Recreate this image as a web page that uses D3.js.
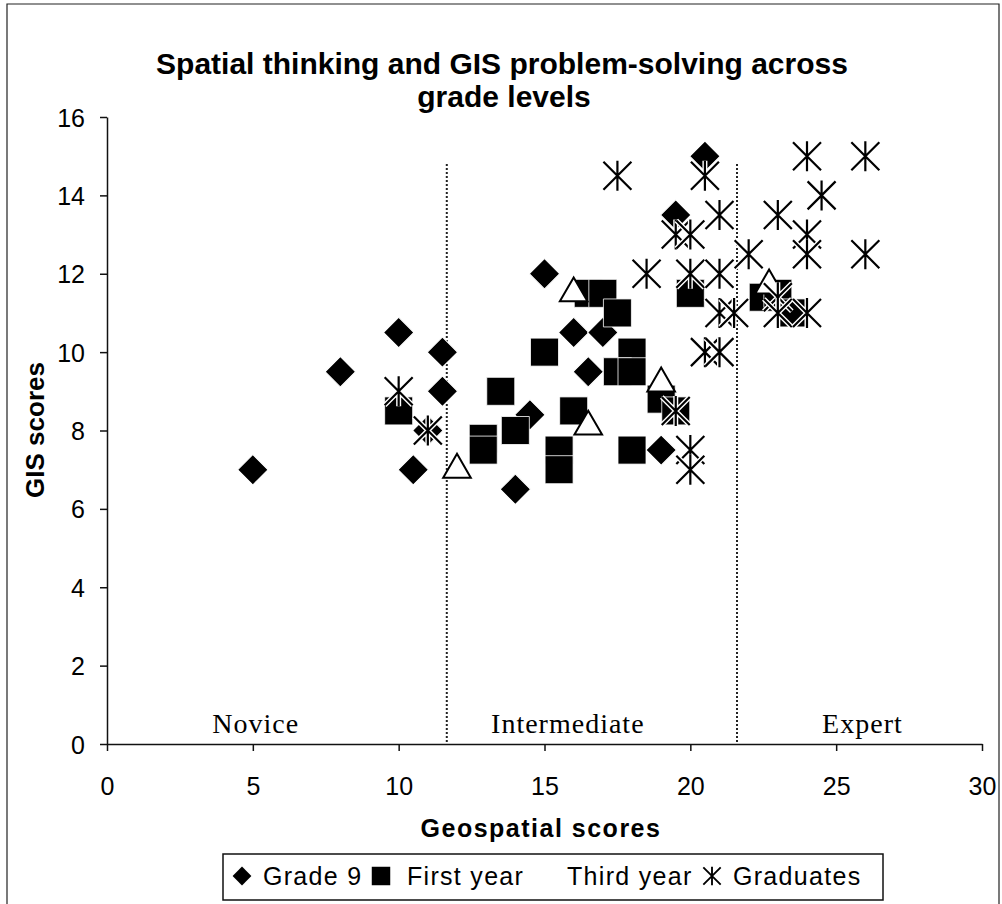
<!DOCTYPE html>
<html>
<head>
<meta charset="utf-8">
<script src="https://cdn.jsdelivr.net/npm/d3@7"></script>
<style>
  body { margin: 0; background: #fff; }
  text { font-family: Arial, "Liberation Sans", sans-serif; fill: #000; }
</style>
</head>
<body>
<div id="chart"></div>
<script>
// values: [geospatial score, GIS score]
var gradeNine = [[5, 7], [8, 9.5], [10, 10.5], [11.5, 10], [11.5, 9], [10.5, 7], [11, 8],
  [15, 12], [16, 10.5], [17, 10.5], [16.5, 9.5], [14, 6.5], [14.5, 8.4], [19, 7.5],
  [19.5, 13.5], [20.5, 15], [23.5, 11]];
var firstYear = [[10, 8.5], [12.9, 7.8], [12.9, 7.5], [13.5, 9], [14, 8], [15, 10], [16, 8.5],
  [15.5, 7.5], [15.5, 7], [16.5, 11.5], [17, 11.5], [17.5, 11], [18, 10], [17.5, 9.5],
  [18, 9.5], [18, 7.5], [19, 8.8], [19.5, 8.5], [20, 11.5], [22.5, 11.4], [23, 11.5], [23.5, 11]];
var thirdYear = [[12, 7], [16, 11.5], [16.5, 8.1], [19, 9.2], [22.7, 11.7]];
var graduates = [[10, 9], [11, 8], [17.5, 14.5], [20.5, 14.5], [24, 15], [26, 15], [24.5, 14],
  [21, 13.5], [23, 13.5], [19.5, 13], [20, 13], [24, 13], [24, 12.5], [26, 12.5], [22, 12.5],
  [18.5, 12], [20, 12], [21, 12], [21, 11], [21.5, 11], [23, 11.4], [23, 11], [24, 11],
  [20.5, 10], [21, 10], [19.5, 8.5], [20, 7.5], [20, 7]];

var seriesNames = ["Grade 9", "First year", "Third year", "Graduates"];
var xTicks = [0, 5, 10, 15, 20, 25, 30];
var yTicks = [0, 2, 4, 6, 8, 10, 12, 14, 16];
var levelNames = ["Novice", "Intermediate", "Expert"];
var levelCentres = [5.1, 15.8, 25.9];
var levelCuts = [11.65, 21.6];
var cutTop = 14.8;

var width = 1002, height = 904;
var svg = d3.select("#chart").append("svg")
  .attr("width", width)
  .attr("height", height);

// frame around the whole figure
svg.append("path")
  .attr("d", "M7,910 L7,4 L999,4 L999,910")
  .attr("fill", "none")
  .attr("stroke", "#222")
  .attr("stroke-width", 1.2);

var x = d3.scaleLinear().domain([0, 30]).range([107, 982]);
var y = d3.scaleLinear().domain([0, 16]).range([744, 117]);

// title
svg.append("text")
  .attr("x", 502).attr("y", 74)
  .attr("text-anchor", "middle")
  .style("font-size", "30px").style("font-weight", "bold")
  .text("Spatial thinking and GIS problem-solving across");
svg.append("text")
  .attr("x", 504).attr("y", 107)
  .attr("text-anchor", "middle")
  .style("font-size", "30px").style("font-weight", "bold")
  .text("grade levels");

// axes
var xAxis = svg.append("g")
  .attr("transform", "translate(0," + y(0) + ")")
  .call(d3.axisBottom(x).tickValues(xTicks).tickSize(7).tickPadding(26).tickSizeOuter(0));
var yAxis = svg.append("g")
  .attr("transform", "translate(" + x(0) + ",0)")
  .call(d3.axisLeft(y).tickValues(yTicks).tickSize(7).tickPadding(15).tickSizeOuter(0));
[xAxis, yAxis].forEach(function (g) {
  g.select(".domain").attr("stroke", "#111").attr("stroke-width", 1.5);
  g.selectAll(".tick line").attr("stroke", "#111").attr("stroke-width", 1.5);
  g.selectAll(".tick text")
    .style("font-size", "25px")
    .style("font-family", "Arial, 'Liberation Sans', sans-serif")
    .attr("fill", "#000");
});
yAxis.selectAll(".tick text").attr("dy", "0.36em");

svg.append("text")
  .attr("x", 541).attr("y", 837)
  .attr("text-anchor", "middle")
  .style("font-size", "25px").style("font-weight", "bold")
  .style("letter-spacing", "1.5px")
  .text("Geospatial scores");
svg.append("text")
  .attr("transform", "translate(44,430) rotate(-90)")
  .attr("text-anchor", "middle")
  .style("font-size", "26px").style("font-weight", "bold")
  .text("GIS scores");

// dotted borders between skill levels
svg.selectAll(".cut")
  .data(levelCuts)
  .enter().append("line")
  .attr("class", "cut")
  .attr("x1", function (d) { return x(d); })
  .attr("x2", function (d) { return x(d); })
  .attr("y1", y(cutTop))
  .attr("y2", y(0))
  .attr("stroke", "#222")
  .attr("stroke-width", 2)
  .attr("stroke-dasharray", "2,2");

svg.selectAll(".level")
  .data(levelNames)
  .enter().append("text")
  .attr("class", "level")
  .attr("x", function (d, i) { return x(levelCentres[i]); })
  .attr("y", 733)
  .attr("text-anchor", "middle")
  .style("font-family", "'Liberation Serif', 'DejaVu Serif', serif")
  .style("font-size", "28px")
  .style("letter-spacing", "1px")
  .text(function (d) { return d; });

// marker shapes
var diamondPath = d3.symbol().type(d3.symbolSquare).size(460)();
var squarePath = d3.symbol().type(d3.symbolSquare).size(784)();
var trianglePath = d3.symbol().type(d3.symbolTriangle).size(330)();
var starPath = "M-14,-14L14,14M-14,14L14,-14M0,-15L0,15";

function pos(d) { return "translate(" + x(d[0]) + "," + y(d[1]) + ")"; }

svg.append("g").selectAll("path")
  .data(gradeNine).enter().append("path")
  .attr("d", diamondPath)
  .attr("transform", function (d) { return pos(d) + " rotate(45)"; })
  .attr("fill", "#000").attr("stroke", "#fff").attr("stroke-width", 1);

svg.append("g").selectAll("path")
  .data(firstYear).enter().append("path")
  .attr("d", squarePath)
  .attr("transform", pos)
  .attr("fill", "#000").attr("stroke", "#fff").attr("stroke-width", 0.8);

svg.append("g").selectAll("path")
  .data(thirdYear).enter().append("path")
  .attr("d", trianglePath)
  .attr("transform", pos)
  .attr("fill", "#fff").attr("stroke", "#000").attr("stroke-width", 2);

var grad = svg.append("g").selectAll("g")
  .data(graduates).enter().append("g")
  .attr("transform", pos);
grad.append("path").attr("d", starPath)
  .attr("stroke", "#fff").attr("stroke-width", 5).attr("fill", "none");
grad.append("path").attr("d", starPath)
  .attr("stroke", "#000").attr("stroke-width", 2.2).attr("fill", "none");

// legend
var legend = svg.append("g");
legend.append("rect")
  .attr("x", 223).attr("y", 854)
  .attr("width", 660).attr("height", 46)
  .attr("fill", "#fff").attr("stroke", "#111").attr("stroke-width", 1.5);

var legendMarkX = [242, 381, 548, 712];
var legendTextX = [263, 407, 567, 733];
var legendShapes = [diamondPath, squarePath, trianglePath, starPath];
var legendScale = [0.62, 0.66, 0.6, 0.62];

legend.selectAll(".lm")
  .data(seriesNames)
  .enter().append("path")
  .attr("class", "lm")
  .attr("d", function (d, i) { return legendShapes[i]; })
  .attr("transform", function (d, i) {
    return "translate(" + legendMarkX[i] + ",876) scale(" + legendScale[i] + ")" + (i === 0 ? " rotate(45)" : "");
  })
  .attr("fill", function (d, i) { return i === 3 ? "none" : (i === 2 ? "#fff" : "#000"); })
  .attr("stroke", function (d, i) { return i === 3 ? "#000" : "none"; })
  .attr("stroke-width", 3);

legend.selectAll(".lt")
  .data(seriesNames)
  .enter().append("text")
  .attr("class", "lt")
  .attr("x", function (d, i) { return legendTextX[i]; })
  .attr("y", 885)
  .style("font-size", "25px")
  .style("letter-spacing", "1.3px")
  .text(function (d) { return d; });
</script>
</body>
</html>
